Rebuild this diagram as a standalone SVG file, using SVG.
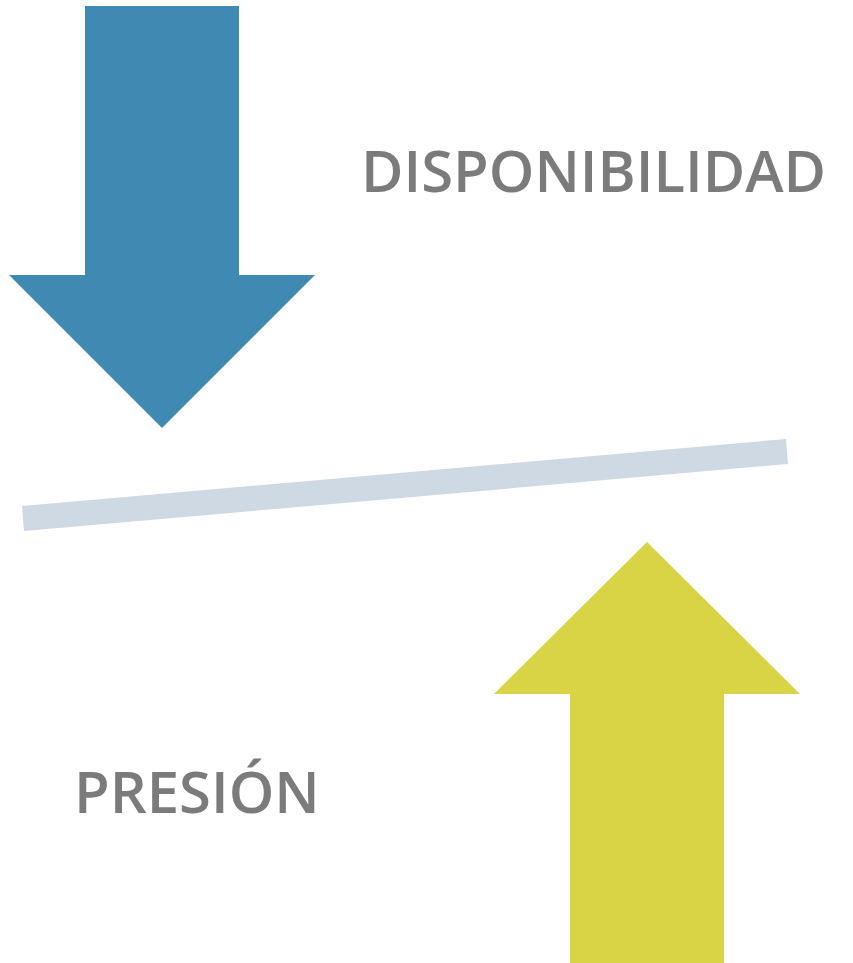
<svg xmlns="http://www.w3.org/2000/svg" width="853" height="963" viewBox="0 0 853 963">
<style>.t{font-family:"Open Sans","Noto Sans","Liberation Sans",sans-serif;font-weight:600;font-size:58px;fill:#7b7b7b}</style>
<rect width="853" height="963" fill="#fff"/>
<g id="arrow-down"><polygon points="85,6 239,6 239,275 315,275 162,428 9,275 85,275" fill="#3f89b3"/></g>
<g id="beam"><polygon points="22,506 786,439 788,464 24,531" fill="#cfd9e4"/></g>
<g id="arrow-up"><polygon points="647,542 800,694 724,694 724,963 570,963 570,694 494,694" fill="#d9d446"/></g>
<g id="label-disponibilidad"><text class="t" x="361" y="192">DISPONIBILIDAD</text></g>
<g id="label-presion"><text class="t" x="74" y="813">PRESIÓN</text></g>
</svg>
